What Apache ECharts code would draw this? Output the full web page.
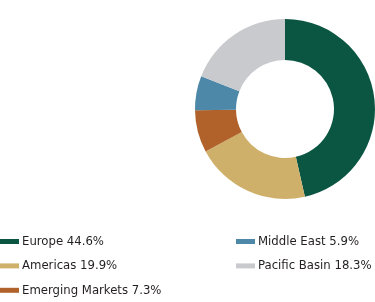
<!DOCTYPE html>
<html><head><meta charset="utf-8">
<script src="https://cdn.jsdelivr.net/npm/echarts@6/dist/echarts.min.js"></script>
<style>html,body{margin:0;padding:0;background:#fff;}#c{width:375px;height:302px;}</style>
</head><body><div id="c"></div>
<script>
var categories = ['Europe', 'Americas', 'Emerging Markets', 'Middle East', 'Pacific Basin'];
var values = [44.6, 19.9, 7.3, 5.9, 18.3];
var colors = ['#0b5642', '#cfb06a', '#b0622a', '#4d88a8', '#c9cacd'];
var legendCol1 = ['Europe', 'Americas', 'Emerging Markets'];
var legendCol2 = ['Middle East', 'Pacific Basin'];

var chart = echarts.init(document.getElementById('c'), null, {renderer: 'canvas'});
var valMap = {};
categories.forEach(function (c, i) { valMap[c] = values[i]; });
function fmt(name) { return name + ' ' + valMap[name].toFixed(1) + '%'; }
var legendText = {fontFamily: '"DejaVu Sans Condensed", sans-serif', fontSize: 13, color: '#231f20', lineHeight: 16, padding: [0, 0, 0, -2]};
chart.setOption({
  animation: false,
  color: colors,
  legend: [
    {data: legendCol1, left: 0, top: 233.5, height: 80, padding: 0, orient: 'vertical', itemWidth: 19, itemHeight: 5, itemGap: 8.4, icon: 'rect', formatter: fmt, textStyle: legendText, selectedMode: false},
    {data: legendCol2, left: 236, top: 233.5, height: 80, padding: 0, orient: 'vertical', itemWidth: 19, itemHeight: 5, itemGap: 8.4, icon: 'rect', formatter: fmt, textStyle: legendText, selectedMode: false}
  ],
  series: [{
    type: 'pie',
    center: [285, 109],
    radius: [49, 90],
    startAngle: 90,
    clockwise: true,
    label: {show: false},
    labelLine: {show: false},
    silent: true,
    itemStyle: {borderWidth: 0},
    data: categories.map(function (c, i) { return {name: c, value: values[i]}; })
  }]
});
</script></body></html>
